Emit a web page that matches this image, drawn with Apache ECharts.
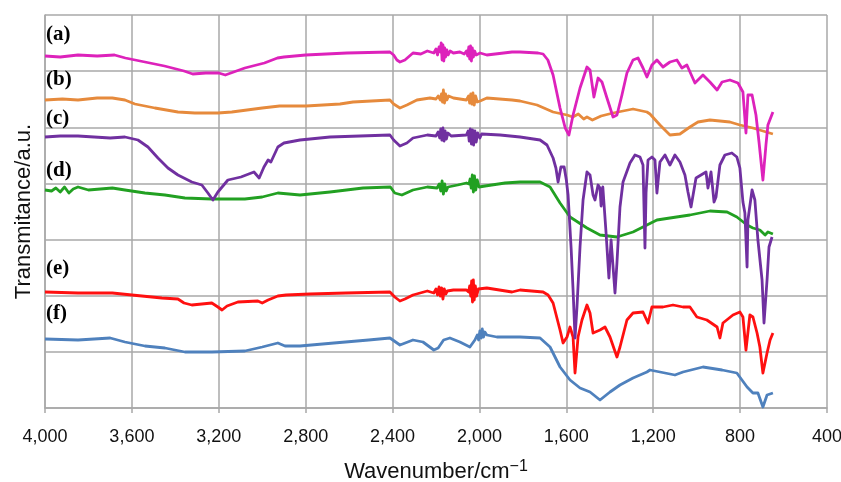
<!DOCTYPE html>
<html>
<head>
<meta charset="utf-8">
<script src="https://cdn.jsdelivr.net/npm/echarts@6/dist/echarts.min.js"></script>
<style>
html,body{margin:0;padding:0;background:#fff;}
#chart{width:841px;height:482px;}
</style>
</head>
<body>
<div id="chart"></div>
<script>
// Wavenumber ticks (cm-1) and trace labels
const xTicks = [4000, 3600, 3200, 2800, 2400, 2000, 1600, 1200, 800, 400];
const traceNames = ['(a)', '(b)', '(c)', '(d)', '(e)', '(f)'];

// Each trace: [wavenumber, transmittance (a.u., stacked offsets)]
const traceA = [[4000,352],[3930,351],[3848,353],[3760,352],[3680,353],[3630,350],[3540,346],[3450,342],[3360,337],[3320,334],[3260,335],[3200,335],[3170,333],[3080,340],[2990,345],[2930,350],[2900,351],[2800,353],[2610,355],[2412,356],[2395,353],[2380,348],[2366,346],[2343,348],[2306,355],[2270,354],[2240,357],[2210,355],[2200,359],[2193,353],[2186,361],[2180,356],[2176,365],[2172,348],[2168,363],[2164,347],[2160,360],[2156,351],[2150,358],[2144,353],[2135,357],[2120,355],[2090,356],[2070,354],[2060,357],[2054,352],[2049,361],[2045,349],[2041,362],[2037,347],[2033,360],[2028,351],[2022,357],[2015,353],[1997,355],[1966,353],[1850,356],[1813,356],[1730,355],[1707,354],[1685,348],[1661,333],[1629,300],[1605,280],[1588,273],[1569,293],[1537,320],[1505,341],[1491,338],[1473,311],[1454,330],[1436,326],[1413,310],[1385,291],[1367,293],[1344,313],[1321,335],[1293,348],[1270,350],[1247,340],[1229,331],[1206,343],[1183,348],[1155,341],[1123,346],[1091,348],[1068,340],[1045,343],[1008,325],[971,333],[939,326],[906,318],[883,326],[847,328],[810,325],[787,316],[773,275],[764,313],[745,313],[727,293],[713,266],[695,228],[681,263],[672,283],[649,296]];

const traceB = [[4000,308],[3920,309],[3848,308],[3760,310],[3690,310],[3632,308],[3586,304],[3494,300],[3388,296],[3310,295],[3204,295],[3140,296],[3000,300],[2920,302],[2798,302],[2642,304],[2582,306],[2412,308],[2395,304],[2366,300],[2334,303],[2288,308],[2228,310],[2200,309],[2190,312],[2180,308],[2175,314],[2170,306],[2166,318],[2161,305],[2156,314],[2150,308],[2142,312],[2120,310],[2090,309],[2060,308],[2050,312],[2045,305],[2040,314],[2035,304],[2030,315],[2024,303],[2018,312],[2010,306],[1997,307],[1966,310],[1850,308],[1813,307],[1735,303],[1661,296],[1597,293],[1570,291],[1545,294],[1520,289],[1505,291],[1480,288],[1440,292],[1385,295],[1293,299],[1229,296],[1215,294],[1169,283],[1123,273],[1077,274],[1031,281],[994,286],[939,288],[847,286],[801,283],[741,280],[649,274]];

const traceC = [[4000,271],[3930,272],[3848,272],[3700,270],[3632,271],[3572,268],[3526,261],[3480,250],[3434,240],[3388,233],[3324,226],[3278,223],[3250,215],[3227,208],[3204,216],[3158,228],[3098,231],[3038,236],[3014,230],[2992,241],[2973,248],[2960,246],[2928,261],[2900,265],[2826,268],[2688,271],[2412,273],[2395,268],[2366,262],[2334,265],[2306,270],[2240,273],[2200,272],[2190,276],[2183,270],[2178,279],[2173,268],[2168,280],[2163,267],[2158,277],[2152,269],[2145,275],[2130,272],[2060,273],[2052,277],[2047,267],[2042,279],[2037,264],[2032,278],[2027,263],[2021,277],[2015,266],[2008,275],[1998,270],[1990,274],[1905,273],[1813,271],[1721,268],[1689,263],[1661,250],[1648,240],[1638,226],[1625,241],[1610,241],[1600,228],[1592,213],[1578,160],[1569,118],[1560,70],[1551,101],[1537,161],[1523,208],[1505,236],[1491,233],[1477,213],[1468,208],[1454,223],[1445,220],[1440,202],[1432,221],[1418,178],[1404,130],[1394,168],[1376,115],[1367,145],[1353,201],[1339,226],[1307,245],[1284,253],[1261,251],[1247,243],[1238,160],[1233,215],[1224,248],[1206,251],[1192,248],[1183,215],[1169,246],[1146,253],[1123,243],[1100,253],[1077,246],[1054,233],[1040,216],[1026,201],[1003,230],[980,233],[957,236],[948,220],[934,236],[920,206],[911,211],[893,243],[870,253],[838,255],[815,251],[801,240],[787,206],[778,195],[768,141],[764,188],[745,218],[732,208],[718,168],[699,128],[690,85],[676,128],[667,161],[653,171]];

const traceD = [[4000,218],[3970,217],[3950,220],[3930,216],[3910,221],[3890,215],[3870,219],[3848,221],[3800,218],[3690,220],[3632,218],[3540,215],[3448,213],[3356,210],[3232,209],[3080,209],[3000,211],[2928,215],[2826,213],[2688,216],[2536,220],[2410,221],[2390,215],[2357,213],[2306,218],[2240,221],[2195,220],[2185,224],[2178,217],[2172,227],[2166,214],[2160,224],[2153,217],[2145,221],[2100,223],[2060,225],[2048,224],[2043,229],[2038,220],[2033,233],[2028,216],[2023,232],[2017,218],[2010,228],[2002,221],[1974,222],[1882,225],[1813,226],[1721,226],[1675,221],[1629,205],[1583,191],[1505,180],[1445,173],[1367,171],[1293,176],[1229,183],[1183,188],[1123,190],[1031,193],[939,197],[860,196],[815,191],[768,183],[741,180],[709,178],[685,173],[672,176],[649,174]];

const traceE = [[4000,116],[3848,115],[3690,115],[3600,113],[3462,110],[3388,109],[3360,105],[3324,103],[3232,105],[3204,101],[3185,98],[3162,102],[3112,106],[3020,107],[3000,105],[2973,108],[2928,112],[2890,113],[2780,114],[2615,115],[2412,116],[2390,111],[2366,107],[2343,109],[2306,113],[2240,117],[2210,115],[2200,119],[2193,113],[2186,121],[2180,112],[2174,120],[2168,109],[2162,119],[2155,114],[2148,117],[2120,118],[2060,118],[2050,116],[2045,122],[2040,112],[2036,127],[2032,106],[2028,128],[2024,108],[2019,122],[2013,112],[2005,119],[1997,117],[1966,120],[1850,116],[1813,118],[1707,116],[1684,113],[1661,105],[1629,78],[1615,65],[1597,71],[1583,81],[1569,71],[1560,35],[1546,71],[1528,88],[1505,103],[1491,95],[1477,75],[1445,78],[1422,81],[1399,71],[1367,51],[1353,61],[1321,88],[1293,95],[1247,96],[1224,85],[1215,83],[1206,101],[1155,101],[1109,103],[1063,101],[1031,101],[999,91],[953,88],[906,81],[893,70],[879,85],[833,93],[801,96],[787,91],[773,58],[755,93],[741,91],[722,75],[709,61],[695,35],[676,55],[662,68],[649,75]];

const traceF = [[4000,69],[3848,68],[3700,70],[3632,66],[3540,62],[3448,60],[3356,56],[3232,56],[3080,57],[3000,61],[2928,65],[2895,62],[2826,62],[2670,65],[2510,68],[2412,70],[2366,63],[2306,68],[2260,66],[2210,58],[2190,60],[2165,68],[2136,70],[2090,66],[2044,61],[2021,68],[2010,73],[2004,68],[1998,77],[1992,70],[1987,79],[1981,71],[1975,76],[1966,73],[1920,71],[1813,71],[1721,70],[1675,61],[1629,41],[1583,28],[1537,20],[1491,16],[1445,8],[1399,16],[1353,23],[1293,30],[1229,36],[1215,38],[1169,36],[1100,33],[1063,36],[971,41],[883,38],[815,35],[768,21],[741,15],[718,15],[695,1],[676,13],[649,15]];

const traces = [traceA, traceB, traceC, traceD, traceE, traceF];
const traceColors = ['#dd22bb', '#e68a3c', '#7030a0', '#22a022', '#ff1010', '#4f81bd'];

const chart = echarts.init(document.getElementById('chart'), null, {renderer: 'canvas'});
const gridColor = '#a8a8a8';
const sans = 'Liberation Sans, Arial, sans-serif';

const labelTops = [24, 69, 108, 160, 258, 303];

chart.setOption({
  animation: false,
  backgroundColor: '#ffffff',
  grid: {left: 45, right: 14, top: 15, bottom: 74, containLabel: false, outerBoundsMode: 'none'},
  xAxis: {
    type: 'value',
    inverse: true,
    min: 400,
    max: 4000,
    interval: 400,
    axisLine: {show: true, onZero: false, lineStyle: {color: gridColor, width: 1.5}},
    axisTick: {show: true, length: 5, lineStyle: {color: gridColor, width: 1.5}},
    splitLine: {show: true, lineStyle: {color: gridColor, width: 1.5}},
    axisLabel: {
      margin: 20,
      color: '#111',
      fontSize: 18,
      fontFamily: sans,
      formatter: v => xTicks.includes(v) ? v.toLocaleString('en-US') : ''
    },
    name: 'Wavenumber/cm{sup|−1}',
    nameLocation: 'middle',
    nameGap: 51,
    nameTextStyle: {
      color: '#111',
      fontSize: 22,
      fontFamily: sans,
      rich: {sup: {fontSize: 16, color: '#111', fontFamily: sans, padding: [0, 0, 9, 0]}}
    }
  },
  yAxis: {
    type: 'value',
    min: 0,
    max: 393,
    interval: 393 / 7,
    axisLine: {show: true, lineStyle: {color: gridColor, width: 1.5}},
    axisTick: {show: false},
    axisLabel: {show: false},
    splitLine: {show: true, lineStyle: {color: gridColor, width: 1.5}},
    name: 'Transmitance/a.u.',
    nameLocation: 'middle',
    nameGap: 10,
    nameRotate: 90,
    nameTextStyle: {color: '#111', fontSize: 22, fontFamily: sans}
  },
  graphic: traceNames.map((t, i) => ({
    type: 'text',
    left: 46,
    top: labelTops[i],
    z: 100,
    style: {text: t, fill: '#000', font: 'bold 21px "Liberation Serif", "Times New Roman", serif'}
  })),
  series: traces.map((d, i) => ({
    type: 'line',
    name: traceNames[i],
    data: d,
    showSymbol: false,
    symbol: 'none',
    smooth: false,
    clip: true,
    lineStyle: {color: traceColors[i], width: 2.8, join: 'round'},
    z: 10 - i
  }))
});
</script>
</body>
</html>
